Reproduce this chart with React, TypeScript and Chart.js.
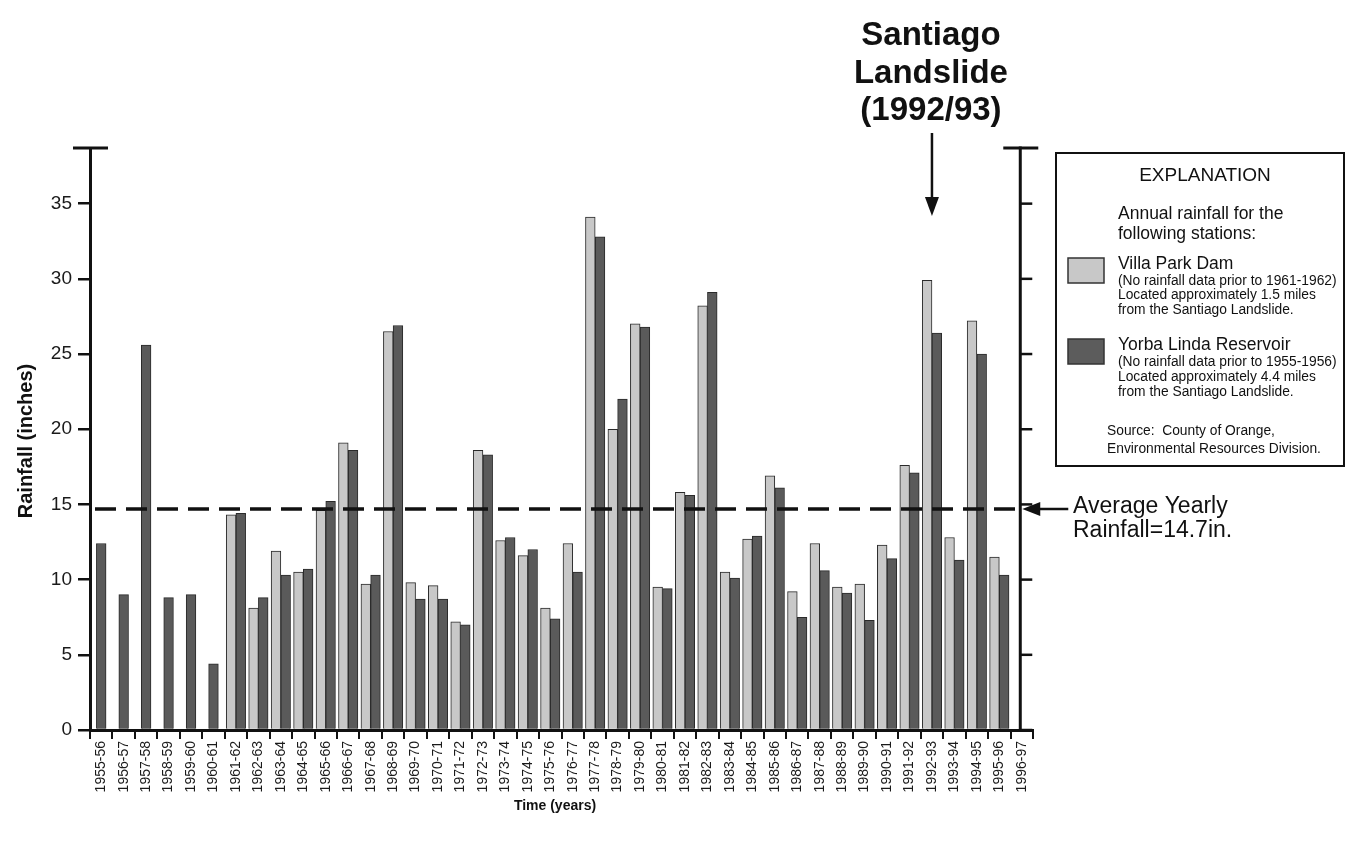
import React, { useEffect, useRef } from 'react';
import { Chart, registerables } from 'chart.js';

Chart.register(...registerables);

const years = [
  '1955-56', '1956-57', '1957-58', '1958-59', '1959-60', '1960-61', '1961-62',
  '1962-63', '1963-64', '1964-65', '1965-66', '1966-67', '1967-68', '1968-69',
  '1969-70', '1970-71', '1971-72', '1972-73', '1973-74', '1974-75', '1975-76',
  '1976-77', '1977-78', '1978-79', '1979-80', '1980-81', '1981-82', '1982-83',
  '1983-84', '1984-85', '1985-86', '1986-87', '1987-88', '1988-89', '1989-90',
  '1990-91', '1991-92', '1992-93', '1993-94', '1994-95', '1995-96', '1996-97',
];

const villaPark: (number | null)[] = [
  null, null, null, null, null, null, 14.3,
  8.1, 11.9, 10.5, 14.6, 19.1, 9.7, 26.5,
  9.8, 9.6, 7.2, 18.6, 12.6, 11.6, 8.1,
  12.4, 34.1, 20.0, 27.0, 9.5, 15.8, 28.2,
  10.5, 12.7, 16.9, 9.2, 12.4, 9.5, 9.7,
  12.3, 17.6, 29.9, 12.8, 27.2, 11.5, null,
];

const yorbaLinda: (number | null)[] = [
  12.4, 9.0, 25.6, 8.8, 9.0, 4.4, 14.4,
  8.8, 10.3, 10.7, 15.2, 18.6, 10.3, 26.9,
  8.7, 8.7, 7.0, 18.3, 12.8, 12.0, 7.4,
  10.5, 32.8, 22.0, 26.8, 9.4, 15.6, 29.1,
  10.1, 12.9, 16.1, 7.5, 10.6, 9.1, 7.3,
  11.4, 17.1, 26.4, 11.3, 25.0, 10.3, null,
];

const yTicks = [0, 5, 10, 15, 20, 25, 30, 35];
const yMax = 38.7;
const avgRainfall = 14.7;
const landslideYear = '1992-93';

const FONT = "'Liberation Sans', Arial, Helvetica, sans-serif";
const INK = '#111';

const annotations = {
  id: 'annotations',
  afterDraw(chart: any) {
    const { ctx, chartArea, scales } = chart;
    const xs = scales.x;
    const ys = scales.y;
    const top = chartArea.top;
    const bottom = chartArea.bottom;
    const left = chartArea.left;
    const rightAxisX = xs.getPixelForValue(years.length - 1) - 1.5;

    const line = (x1: number, y1: number, x2: number, y2: number) => {
      ctx.beginPath();
      ctx.moveTo(x1, y1);
      ctx.lineTo(x2, y2);
      ctx.stroke();
    };
    const tri = (pts: number[][]) => {
      ctx.beginPath();
      ctx.moveTo(pts[0][0], pts[0][1]);
      ctx.lineTo(pts[1][0], pts[1][1]);
      ctx.lineTo(pts[2][0], pts[2][1]);
      ctx.closePath();
      ctx.fill();
    };

    ctx.save();
    ctx.strokeStyle = INK;
    ctx.fillStyle = INK;
    ctx.lineCap = 'butt';

    // caps and right axis
    ctx.lineWidth = 3;
    line(left - 17, top, left + 18, top);
    line(rightAxisX, top - 1.5, rightAxisX, bottom);
    line(rightAxisX - 17, top, rightAxisX + 18, top);
    ctx.lineWidth = 2.5;
    yTicks.forEach((v) => {
      const py = ys.getPixelForValue(v);
      line(rightAxisX, py, rightAxisX + 12, py);
    });

    // average dashed line
    const ay = ys.getPixelForValue(avgRainfall);
    ctx.lineWidth = 3.5;
    ctx.setLineDash([21, 10]);
    line(left + 5, ay, rightAxisX, ay);
    ctx.setLineDash([]);

    // average arrow + text
    ctx.lineWidth = 2.5;
    line(rightAxisX + 16, ay, rightAxisX + 48, ay);
    tri([[rightAxisX + 2, ay], [rightAxisX + 20, ay - 7], [rightAxisX + 20, ay + 7]]);
    ctx.font = `23px ${FONT}`;
    ctx.textAlign = 'left';
    ctx.textBaseline = 'alphabetic';
    ctx.fillText('Average Yearly', 1073, ay + 4);
    ctx.fillText('Rainfall=14.7in.', 1073, ay + 28);

    // landslide annotation
    const lx = xs.getPixelForValue(years.indexOf(landslideYear));
    ctx.font = `bold 33px ${FONT}`;
    ctx.textAlign = 'center';
    ctx.fillText('Santiago', lx - 1, 45);
    ctx.fillText('Landslide', lx - 1, 83);
    ctx.fillText('(1992/93)', lx - 1, 120);
    ctx.lineWidth = 2.5;
    line(lx, 133, lx, 200);
    tri([[lx, 216], [lx - 7, 197], [lx + 7, 197]]);

    // axis titles
    ctx.font = `bold 20px ${FONT}`;
    ctx.save();
    ctx.translate(26, 441);
    ctx.rotate(-Math.PI / 2);
    ctx.textAlign = 'center';
    ctx.textBaseline = 'middle';
    ctx.fillText('Rainfall (inches)', 0, 0);
    ctx.restore();

    ctx.font = `bold 14px ${FONT}`;
    ctx.textAlign = 'center';
    ctx.textBaseline = 'middle';
    ctx.fillText('Time (years)', 555, 806);

    // legend / explanation box
    ctx.lineWidth = 2;
    ctx.strokeRect(1056, 153, 288, 313);
    ctx.textBaseline = 'middle';
    ctx.font = `19px ${FONT}`;
    ctx.textAlign = 'center';
    ctx.fillText('EXPLANATION', 1205, 176);
    ctx.textAlign = 'left';
    ctx.font = `17.5px ${FONT}`;
    ctx.fillText('Annual rainfall for the', 1118, 214);
    ctx.fillText('following stations:', 1118, 234);

    const swatch = (yTop: number, color: string) => {
      ctx.fillStyle = color;
      ctx.fillRect(1068, yTop, 36, 25);
      ctx.strokeStyle = '#333';
      ctx.lineWidth = 1.5;
      ctx.strokeRect(1068, yTop, 36, 25);
      ctx.fillStyle = INK;
    };
    swatch(258, '#c8c8c8');
    swatch(339, '#5c5c5c');

    ctx.font = `17.5px ${FONT}`;
    ctx.fillText('Villa Park Dam', 1118, 264);
    ctx.fillText('Yorba Linda Reservoir', 1118, 345);
    ctx.font = `13.8px ${FONT}`;
    ctx.fillText('(No rainfall data prior to 1961-1962)', 1118, 281);
    ctx.fillText('Located approximately 1.5 miles', 1118, 295);
    ctx.fillText('from the Santiago Landslide.', 1118, 310);
    ctx.fillText('(No rainfall data prior to 1955-1956)', 1118, 362);
    ctx.fillText('Located approximately 4.4 miles', 1118, 377);
    ctx.fillText('from the Santiago Landslide.', 1118, 392);
    ctx.fillText('Source:  County of Orange,', 1107, 431);
    ctx.fillText('Environmental Resources Division.', 1107, 449);

    ctx.restore();
  },
};

export default function App() {
  const canvasRef = useRef<HTMLCanvasElement | null>(null);

  useEffect(() => {
    const canvas = canvasRef.current;
    if (!canvas) return;
    const chart = new Chart(canvas, {
      type: 'bar',
      data: {
        labels: years,
        datasets: [
          {
            label: 'Villa Park Dam',
            data: villaPark,
            backgroundColor: '#c8c8c8',
            borderColor: '#2a2a2a',
            borderWidth: 1,
            skipNull: true,
            barThickness: 9.7,
          } as any,
          {
            label: 'Yorba Linda Reservoir',
            data: yorbaLinda,
            backgroundColor: '#5a5a5a',
            borderColor: '#2a2a2a',
            borderWidth: 1,
            skipNull: true,
            barThickness: 9.7,
          } as any,
        ],
      },
      options: {
        animation: false,
        responsive: false,
        maintainAspectRatio: false,
        layout: { padding: { top: 148, right: 313, left: 0, bottom: 0 } },
        plugins: {
          legend: { display: false },
          tooltip: { enabled: false },
        },
        scales: {
          x: {
            offset: true,
            grid: {
              offset: true,
              drawOnChartArea: false,
              drawTicks: true,
              tickLength: 9,
              color: INK,
              lineWidth: 2,
            },
            border: { display: true, color: INK, width: 3 },
            ticks: {
              autoSkip: false,
              minRotation: 90,
              maxRotation: 90,
              padding: 2,
              color: '#1a1a1a',
              font: { family: FONT, size: 14 },
            },
            afterFit: (s: any) => {
              s.height = 113;
            },
          },
          y: {
            min: 0,
            max: yMax,
            afterBuildTicks: (s: any) => {
              s.ticks = yTicks.map((v) => ({ value: v }));
            },
            ticks: {
              padding: 6,
              color: '#1a1a1a',
              font: { family: FONT, size: 19 },
            },
            grid: {
              drawOnChartArea: false,
              drawTicks: true,
              tickLength: 12,
              color: INK,
              lineWidth: 2.5,
            },
            border: { display: true, color: INK, width: 3 },
            afterFit: (s: any) => {
              s.width = 90;
            },
          },
        },
      },
      plugins: [annotations],
    });
    return () => chart.destroy();
  }, []);

  return (
    <div style={{ position: 'absolute', left: 0, top: 0, width: 1346, height: 843, background: '#fff' }}>
      <canvas ref={canvasRef} width={1346} height={843} style={{ display: 'block' }} />
    </div>
  );
}
